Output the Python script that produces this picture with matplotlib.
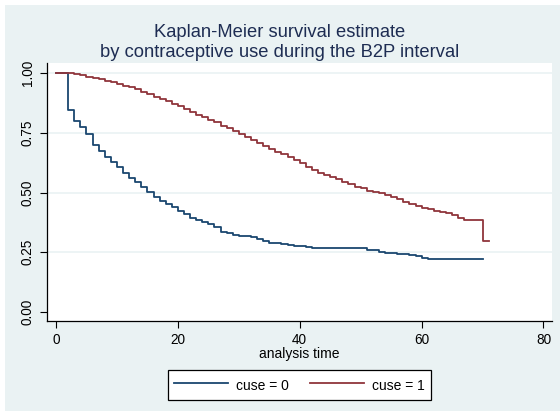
import matplotlib
matplotlib.use("Agg")
import matplotlib.pyplot as plt
from matplotlib.patches import Rectangle

plt.rcParams['font.family'] = ['Liberation Sans', 'DejaVu Sans']

# ---- data ----
t0 = [0, 2, 3, 4, 5, 6, 7, 8, 9, 10, 11, 12, 13, 14, 15, 16, 17, 18, 19, 20,
      21, 22, 23, 24, 25, 26, 27, 28, 29, 30, 31, 32, 33, 34, 35, 36, 37, 38,
      39, 40, 41, 42, 45, 51, 53, 54, 56, 58, 59, 60, 61, 70]
s0 = [1.0, 0.846, 0.801, 0.773, 0.744, 0.699, 0.675, 0.648, 0.629, 0.609,
      0.583, 0.562, 0.546, 0.523, 0.504, 0.480, 0.463, 0.451, 0.439, 0.425,
      0.409, 0.395, 0.384, 0.378, 0.370, 0.356, 0.336, 0.329, 0.324, 0.320,
      0.317, 0.313, 0.306, 0.298, 0.290, 0.288, 0.285, 0.282, 0.278, 0.275,
      0.272, 0.268, 0.266, 0.258, 0.251, 0.247, 0.243, 0.239, 0.234, 0.228,
      0.221, 0.221]

t1 = [0, 3, 4, 5, 6, 7, 8, 9, 10, 11, 12, 13, 14, 15, 16, 17, 18, 19, 20,
      21, 22, 23, 24, 25, 26, 27, 28, 29, 30, 31, 32, 33, 34, 35, 36, 37, 38,
      39, 40, 41, 42, 43, 44, 45, 46, 47, 48, 49, 50, 51, 52, 53, 54, 55, 56,
      57, 58, 59, 60, 61, 62, 63, 64, 65, 66, 67, 68, 70, 71]
s1 = [1.0, 0.996, 0.992, 0.986, 0.980, 0.975, 0.969, 0.963, 0.956, 0.948,
      0.941, 0.933, 0.923, 0.912, 0.902, 0.892, 0.882, 0.872, 0.861, 0.850,
      0.838, 0.827, 0.817, 0.805, 0.794, 0.779, 0.770, 0.757, 0.744, 0.732,
      0.719, 0.706, 0.696, 0.684, 0.671, 0.660, 0.650, 0.638, 0.622, 0.608,
      0.594, 0.583, 0.574, 0.567, 0.555, 0.546, 0.536, 0.525, 0.518, 0.508,
      0.504, 0.500, 0.490, 0.480, 0.472, 0.462, 0.451, 0.445, 0.437, 0.433,
      0.422, 0.419, 0.413, 0.405, 0.394, 0.387, 0.384, 0.297, 0.297]

xticks = [0, 20, 40, 60, 80]
yticks = [0.0, 0.25, 0.5, 0.75, 1.0]
ytick_labels = ["0.00", "0.25", "0.50", "0.75", "1.00"]
labels = ["cuse = 0", "cuse = 1"]
title = "Kaplan-Meier survival estimate\nby contraceptive use during the B2P interval"
xlabel = "analysis time"

BG = "#EAF2F3"
NAVY = "#1A476F"
MAROON = "#90353B"

W, H = 560, 411
fig = plt.figure(figsize=(W / 100, H / 100), dpi=100, facecolor="white")
fig.patches.append(Rectangle((5 / W, 0), 1, 1 - 5 / H, transform=fig.transFigure,
                             facecolor=BG, edgecolor="none", zorder=-10))

left, right, top, bottom = 47, 552, 63.3, 320.7
ax = fig.add_axes([left / W, 1 - bottom / H, (right - left) / W, (bottom - top) / H])
ax.set_facecolor("white")
ax.set_xlim(-1.48, 81.4)
ax.set_ylim(-0.0364, 1.0415)

for y in [0.25, 0.5, 0.75, 1.0]:
    ax.axhline(y, color=BG, lw=1.2, zorder=1)

l0, = ax.step(t0, s0, where="post", color=NAVY, lw=1.3, zorder=3, label=labels[0])
l1, = ax.step(t1, s1, where="post", color=MAROON, lw=1.3, zorder=3, label=labels[1])

for sp in ["top", "right"]:
    ax.spines[sp].set_visible(False)
for sp in ["left", "bottom"]:
    ax.spines[sp].set_color("black")
    ax.spines[sp].set_linewidth(0.9)

ax.set_xticks(xticks)
ax.set_xticklabels([str(v) for v in xticks], fontsize=9.8)
ax.set_yticks(yticks)
ax.set_yticklabels(ytick_labels, fontsize=9.8, rotation=90, va="center")
ax.tick_params(axis="both", direction="out", length=4.7, width=0.8, color="black")
ax.tick_params(axis="x", pad=4)
ax.tick_params(axis="y", pad=4)

ax.set_xlabel(xlabel, fontsize=10, labelpad=0)

fig.text(0.5, 1 - 42.5 / H, title, ha="center", va="center", fontsize=13.2,
         color="#1E2D53", linespacing=1.2)

fig.legend(handles=[l0, l1], labels=labels, loc="center",
           bbox_to_anchor=((left + right) / 2 / W, 1 - 385 / H), ncol=2,
           fontsize=10, frameon=True, fancybox=False, edgecolor="black",
           facecolor="white", framealpha=1, handlelength=3.9, handletextpad=0.6,
           columnspacing=1.5, borderpad=0.45, handleheight=1.6)
fig.legends[0].get_frame().set_linewidth(0.9)

fig.savefig("out.png", dpi=100, facecolor=fig.get_facecolor())
